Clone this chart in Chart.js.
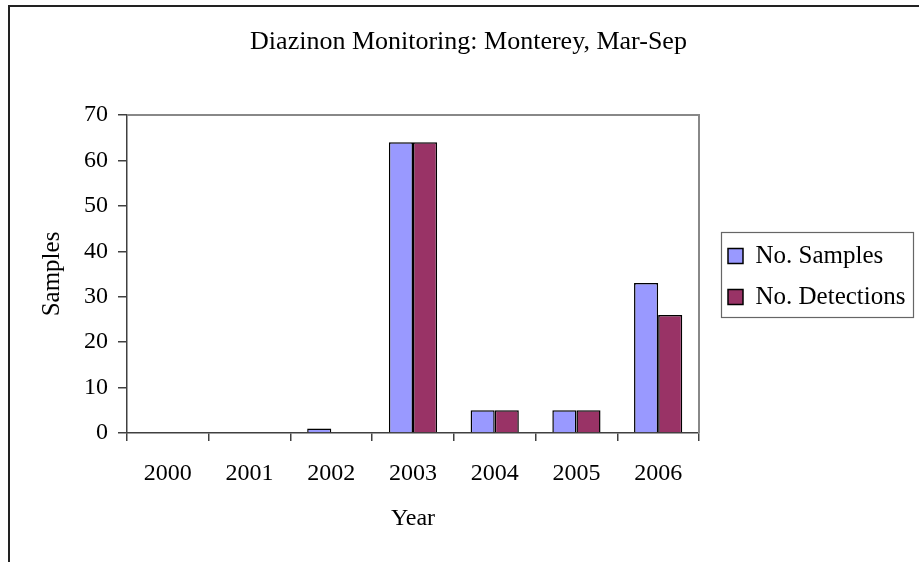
<!DOCTYPE html>
<html>
<head>
<meta charset="utf-8">
<script src="https://cdn.jsdelivr.net/npm/chart.js@4.4.1/dist/chart.umd.min.js"></script>
<style>
html,body{margin:0;padding:0;background:#fff;overflow:hidden;}
#wrap{position:relative;width:919px;height:562px;}
</style>
</head>
<body>
<div id="wrap"><canvas id="c" width="919" height="562"></canvas></div>
<script>
// ---- data ----
const years = ['2000', '2001', '2002', '2003', '2004', '2005', '2006'];
const noSamples = [0, 0, 1, 64, 5, 5, 33];
const noDetections = [0, 0, 0, 64, 5, 5, 26];
const yTicks = [0, 10, 20, 30, 40, 50, 60, 70];

const chartTitle = 'Diazinon Monitoring: Monterey, Mar-Sep';
const xTitle = 'Year';
const yTitle = 'Samples';
const seriesNames = ['No. Samples', 'No. Detections'];

// ---- styling/layout ----
const FONT = "'Liberation Serif', 'Times New Roman', serif";
const AXIS = '#404040';
let padL = 18, padR = 0;
const LEGEND_PAD = 16;

const framePlugin = {
  id: 'frame',
  afterLayout(chart) {
    const lg = chart.legend;
    if (lg) {
      lg.left += 13; lg.right += 13;
      lg.top += 2.5; lg.bottom += 2.5;
    }
  },
  beforeDatasetsDraw(chart) {
    const {ctx, chartArea: a} = chart;
    ctx.save();
    ctx.strokeStyle = '#888888';
    ctx.lineWidth = 2;
    ctx.beginPath();
    ctx.moveTo(a.left, a.top);
    ctx.lineTo(a.right, a.top);
    ctx.lineTo(a.right, a.bottom);
    ctx.stroke();
    ctx.restore();
  },
  afterDraw(chart) {
    const {ctx} = chart;
    ctx.save();
    // outer chart border
    ctx.strokeStyle = '#222';
    ctx.lineWidth = 2;
    ctx.beginPath();
    ctx.moveTo(9, 562);
    ctx.lineTo(9, 6);
    ctx.lineTo(919, 6);
    ctx.stroke();
    // legend frame
    const lg = chart.legend;
    const bx = lg.left + LEGEND_PAD - 7;
    ctx.strokeStyle = '#666';
    ctx.lineWidth = 1.2;
    ctx.strokeRect(bx + 0.5, 232.5, 192, 85);
    ctx.restore();
  }
};

const ctx = document.getElementById('c').getContext('2d');
const chart = new Chart(ctx, {
  type: 'bar',
  data: {
    labels: years,
    datasets: [
      {label: seriesNames[0], data: noSamples, backgroundColor: '#9999FF', borderColor: '#000', borderWidth: 1.5,
       categoryPercentage: 0.59, barPercentage: 1.0},
      {label: seriesNames[1], data: noDetections, backgroundColor: '#993366', borderColor: '#000', borderWidth: 1.5,
       categoryPercentage: 0.59, barPercentage: 1.0}
    ]
  },
  options: {
    responsive: false,
    animation: false,
    devicePixelRatio: 1,
    layout: {padding: {top: 0, bottom: 0, left: padL, right: padR}},
    plugins: {
      title: {
        display: true, text: chartTitle, color: '#000',
        font: {family: FONT, size: 26, weight: 'normal'},
        padding: {top: 26.4, bottom: 57.4}
      },
      legend: {
        display: true, position: 'right', fullSize: false,
        labels: {
          color: '#000', font: {family: FONT, size: 25},
          boxWidth: 15, boxHeight: 15, padding: LEGEND_PAD
        }
      },
      tooltip: {enabled: false}
    },
    scales: {
      x: {
        grid: {display: true, drawOnChartArea: false, drawTicks: true, tickLength: 8, color: AXIS, lineWidth: 1.5, offset: true},
        border: {display: true, color: AXIS, width: 1.5},
        ticks: {color: '#000', font: {family: FONT, size: 24}, padding: 18, maxRotation: 0},
        title: {display: true, text: xTitle, color: '#000', font: {family: FONT, size: 24}, padding: {top: 0, bottom: 28.6}},
        afterFit(s) { s.height = 129; }
      },
      y: {
        min: 0, max: 70,
        afterBuildTicks(s) { s.ticks = yTicks.map(v => ({value: v})); },
        grid: {display: true, drawOnChartArea: false, drawTicks: true, tickLength: 9, color: AXIS, lineWidth: 1.5},
        border: {display: true, color: AXIS, width: 1.5},
        ticks: {color: '#000', font: {family: FONT, size: 24}, padding: 10},
        title: {display: true, text: yTitle, color: '#000', font: {family: FONT, size: 25}, padding: {top: 19, bottom: 0}},
        afterFit(s) { s.width = 127 - padL; }
      }
    }
  },
  plugins: [framePlugin]
});

// make the legend column end where the plot area should end (x = 699)
const extra = 220 - chart.legend.width;
padR = extra;
padL = 18 + extra;
chart.options.layout.padding = {top: 0, bottom: 0, left: padL, right: padR};
chart.options.scales.y.title.padding = {top: Math.max(0, 52 - padL - 15), bottom: 0};
chart.update();
</script>
</body>
</html>
